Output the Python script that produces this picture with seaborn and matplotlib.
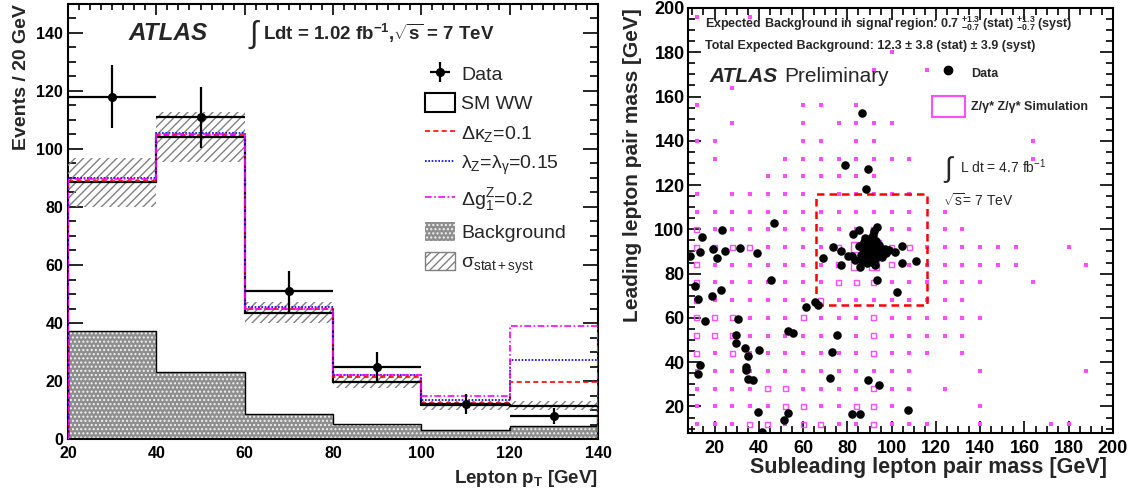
import matplotlib
matplotlib.use("Agg")
import matplotlib.pyplot as plt
import seaborn as sns
from matplotlib.patches import Patch
from matplotlib.lines import Line2D
from matplotlib.ticker import MultipleLocator

# ---------------- left panel data ----------------
bin_edges = [20, 40, 60, 80, 100, 120, 140]
bin_centers = [30, 50, 70, 90, 110, 130]
data_counts = [118, 111, 51, 25, 12, 8]
data_err = [10.9, 10.5, 7.1, 5.0, 3.5, 2.8]
sm_ww = [88.5, 104.0, 43.6, 19.8, 11.6, 11.5]
sm_sigma = [8.4, 8.6, 3.6, 2.2, 1.5, 1.5]
dkappa = [89.1, 104.8, 44.8, 21.3, 12.4, 19.5]
dlambda = [89.9, 105.6, 45.6, 22.1, 13.5, 27.3]
dg1 = [89.5, 105.2, 45.0, 22.1, 15.0, 39.0]
background = [37.2, 23.2, 8.7, 5.1, 3.2, 4.6]

# ---------------- right panel data ----------------
data_x = [46.7, 23.3, 14.1, 19.5, 13.3, 8.7, 20.9, 24.7, 31.3, 39.0, 45.6, 11.2, 23.0, 12.3, 18.8,
          30.7, 15.5, 61.2, 65.2, 66.6, 68.9, 29.8, 29.5, 33.6, 35.2, 39.9, 53.2, 55.6, 13.5, 12.6,
          34.3, 34.2, 34.9, 37.3, 39.6, 53.3, 51.2, 41.5, 102.4, 75.2, 73.1, 72.3, 89.2, 94.2, 107.3,
          82.3, 85.9, 93.3, 86.5, 79.0, 89.2, 88.4, 93.6, 92.1, 85.4, 82.7, 91.5, 73.7, 77.0, 80.3,
          82.3, 77.0, 85.7, 104.9, 101.6, 104.6, 111.1,
          88.5, 89.2, 90.1, 90.8, 91.5, 92.3, 91.0, 89.7, 92.8, 93.4, 90.4, 91.8, 89.1, 87.6, 86.9,
          88.2, 93.9, 94.6, 95.2, 92.0, 93.1, 87.4, 86.1, 89.9, 91.3, 92.7, 94.1, 88.8, 96.3, 97.5,
          85.4, 90.6, 88.0, 92.4, 86.5, 95.8, 91.2, 89.5, 90.9, 97.0, 99.0, 83.5]
data_y = [102.8, 99.5, 96.4, 91.2, 89.6, 87.8, 86.9, 90.0, 91.4, 89.3, 77.0, 74.2, 72.6, 68.4, 70.0,
          59.6, 58.7, 64.9, 67.3, 65.8, 86.9, 52.2, 48.8, 46.5, 42.9, 45.6, 54.1, 53.2, 38.5, 34.6,
          37.9, 36.3, 32.3, 31.8, 17.5, 17.0, 13.7, 8.5, 71.9, 52.2, 44.4, 32.9, 31.8, 29.8, 18.2,
          16.5, 16.6, 77.0, 152.7, 128.9, 127.3, 118.4, 101.0, 99.2, 99.9, 98.0, 97.3, 92.1, 90.1, 88.1,
          88.0, 84.0, 82.8, 92.4, 89.9, 84.7, 85.7,
          91.5, 90.3, 89.4, 91.2, 90.0, 88.7, 87.8, 88.2, 91.6, 90.2, 92.8, 93.5, 93.9, 89.6, 91.0,
          87.0, 88.0, 89.4, 91.1, 95.2, 94.6, 94.5, 88.4, 86.3, 85.2, 86.5, 92.9, 84.8, 90.2, 89.5,
          92.3, 95.9, 96.0, 84.0, 85.5, 87.6, 91.4, 92.0, 88.9, 91.0, 90.5, 86.0]

# Z/gamma* simulation: 8 GeV bins, box size ~ content (rows top y=196 -> bottom y=12)
mc_bin_centers = [12, 20, 28, 36, 44, 52, 60, 68, 76, 84, 92, 100,
                  108, 116, 124, 132, 140, 148, 156, 164, 172, 180, 188, 196]
mc_rows = [
    "100100000000000000000000",  # 196
    "000000000000000000000000",  # 188
    "000000000001000000000000",  # 180
    "000000000010010000000000",  # 172
    "001000000000000000000000",  # 164
    "100000110100000000000000",  # 156
    "001000101111000000000000",  # 148
    "110000110110000000010000",  # 140
    "010001111111100000010000",  # 132
    "000011111110000000000000",  # 124
    "101111101111100000000000",  # 116
    "111111111111101000000000",  # 108
    "211111111121101100000000",  # 100
    "222211112462211111100100",  # 92
    "211111112442111111100010",  # 84
    "211111112221111110010000",  # 76
    "211111121111111100000000",  # 68
    "222111211121111110000000",  # 60
    "222111111121111100000000",  # 52
    "212111111121110100000000",  # 44
    "111111111111100010000010",  # 36
    "111122111121101000000000",  # 28
    "111112211221000010000000",  # 20
    "111221221121110010001100",  # 12
]
signal_region = [66, 116, 66, 116]  # x0, x1, y0, y1

# ---------------- style ----------------
sns.set_theme(style="ticks")
plt.rcParams["font.family"] = ["Liberation Sans", "DejaVu Sans"]
plt.rcParams["mathtext.fontset"] = "custom"
plt.rcParams["mathtext.rm"] = "Liberation Sans"
plt.rcParams["mathtext.bf"] = "Liberation Sans:bold"
plt.rcParams["mathtext.it"] = "Liberation Sans:italic"
plt.rcParams["mathtext.sf"] = "Liberation Sans"
plt.rcParams["mathtext.default"] = "regular"
plt.rcParams["hatch.linewidth"] = 1.0

W, H = 1135, 494
fig = plt.figure(figsize=(W / 100, H / 100), dpi=100)


def fx(px):
    return px / W


def fy(py):
    return 1 - py / H


ax1 = fig.add_axes([fx(68), fy(439), fx(598) - fx(68), fy(4) - fy(439)])
ax2 = fig.add_axes([fx(688), fy(433), fx(1113) - fx(688), fy(8) - fy(433)])

BG_FACE = "#8e8e8e"
BG_EDGE = "#f2f2f2"
BG_HATCH = "...."

# ---------------- left panel ----------------
ax1.stairs(background, bin_edges, fill=True, facecolor=BG_FACE, edgecolor=BG_EDGE,
           hatch=BG_HATCH, linewidth=0, zorder=1)
ax1.stairs(background, bin_edges, color="black", linewidth=1.0, zorder=2)
band_lo = [m - s for m, s in zip(sm_ww, sm_sigma)]
band_h = [2 * s for s in sm_sigma]
ax1.bar(bin_centers, band_h, bottom=band_lo, width=20, facecolor="none", edgecolor="#808080",
        hatch="////", linewidth=0, zorder=3)
ax1.stairs(sm_ww, bin_edges, color="black", linewidth=1.6, zorder=4)
ax1.stairs(dkappa, bin_edges, color="#ff0000", linestyle=(0, (3, 2)), linewidth=1.2, zorder=5)
ax1.stairs(dlambda, bin_edges, color="#0000ff", linestyle=(0, (1, 1)), linewidth=1.2, zorder=5)
ax1.stairs(dg1, bin_edges, color="#ff00ff", linestyle=(0, (4, 1.5, 1, 1.5)), linewidth=1.2, zorder=5)
data_cont = ax1.errorbar(bin_centers, data_counts, yerr=data_err, xerr=10, fmt="o", color="black",
                         ms=5.5, elinewidth=1.6, capsize=0, zorder=6)

ax1.set_xlim(20, 140)
ax1.set_ylim(0, 150)
ax1.xaxis.set_major_locator(MultipleLocator(20))
ax1.xaxis.set_minor_locator(MultipleLocator(2.5))
ax1.yaxis.set_major_locator(MultipleLocator(20))
ax1.yaxis.set_minor_locator(MultipleLocator(5))
ax1.tick_params(axis="both", which="both", direction="in", top=True, right=True, width=1.2,
                colors="black")
ax1.tick_params(axis="x", which="major", length=8, pad=5)
ax1.tick_params(axis="x", which="minor", length=4.3)
ax1.tick_params(axis="y", which="major", length=11, pad=3.5)
ax1.tick_params(axis="y", which="minor", length=5.8)
for lab in ax1.get_xticklabels() + ax1.get_yticklabels():
    lab.set_fontweight("bold")
    lab.set_fontsize(11.5)
for sp in ax1.spines.values():
    sp.set_linewidth(1.5)
    sp.set_color("black")

ax1.set_xlabel("Lepton p$_{\\mathbf{T}}$ [GeV]", fontsize=13.5, fontweight="bold", ha="right",
               va="center")
ax1.xaxis.set_label_coords(1.0, (439 - 478) / 435)
ax1.set_ylabel("Events / 20 GeV", fontsize=14, fontweight="bold", ha="right", va="center")
ax1.yaxis.set_label_coords((22 - 68) / 530, 1.0)

handles = [
    data_cont,
    Patch(facecolor="white", edgecolor="black", linewidth=1.5),
    Line2D([], [], color="#ff0000", linestyle=(0, (3, 2)), linewidth=1.2),
    Line2D([], [], color="#0000ff", linestyle=(0, (1, 1)), linewidth=1.2),
    Line2D([], [], color="#ff00ff", linestyle=(0, (4, 1.5, 1, 1.5)), linewidth=1.2),
    Patch(facecolor=BG_FACE, edgecolor=BG_EDGE, hatch=BG_HATCH, linewidth=0),
    Patch(facecolor="white", edgecolor="#808080", hatch="////"),
]
labels = ["Data", "SM WW", "Δκ$_{Z}$=0.1", "λ$_{Z}$=λ$_{γ}$=0.15", "Δg$_{1}^{Z}$=0.2",
          "Background", "σ$_{stat+syst}$"]
leg1 = ax1.legend(handles, labels, loc="upper left",
                  bbox_to_anchor=((425 - 68) / 530, (439 - 64) / 435),
                  frameon=False, fontsize=14, handlelength=1.55, handleheight=1.1,
                  handletextpad=0.3, labelspacing=0.48, borderpad=0, borderaxespad=0)

fig.text(fx(128), fy(33), "ATLAS", fontsize=17.5, fontweight="bold", fontstyle="italic",
         va="center", ha="left")
fig.text(fx(249), fy(35), "∫", fontsize=22, va="center", ha="left")
fig.text(fx(263), fy(33), "Ldt = 1.02 fb$^{-1}$,$\\sqrt{s}$ = 7 TeV", fontsize=13.5,
         fontweight="bold", va="center", ha="left")

# ---------------- right panel ----------------
box_x, box_y, box_c = [], [], []
n_rows = len(mc_rows)
for r, row in enumerate(mc_rows):
    yc = mc_bin_centers[n_rows - 1 - r]
    for c, ch in enumerate(row):
        v = int(ch)
        if v > 0:
            box_x.append(mc_bin_centers[c])
            box_y.append(yc)
            box_c.append(v)

mag = "#ff4dff"
sx = [x for x, c in zip(box_x, box_c) if c == 1]
sy = [y for y, c in zip(box_y, box_c) if c == 1]
ax2.scatter(sx, sy, marker="s", s=6.5, color=mag, linewidths=0, zorder=2)
bx = [x for x, c in zip(box_x, box_c) if c > 1]
by = [y for y, c in zip(box_y, box_c) if c > 1]
bs = [(1.8 * c) ** 2 for c in box_c if c > 1]
ax2.scatter(bx, by, marker="s", s=bs, facecolors="none", edgecolors=mag, linewidths=1.0, zorder=2)

x0, x1, y0, y1 = signal_region
ax2.plot([x0, x1, x1, x0, x0], [y0, y0, y1, y1, y0], color="#ff0000", linestyle=(0, (3, 2)),
         linewidth=1.8, zorder=3)

sns.scatterplot(x=data_x, y=data_y, ax=ax2, color="black", s=38, linewidth=0, zorder=5)

ax2.set_xlim(8, 200)
ax2.set_ylim(8, 200)
ax2.xaxis.set_major_locator(MultipleLocator(20))
ax2.xaxis.set_minor_locator(MultipleLocator(5))
ax2.yaxis.set_major_locator(MultipleLocator(20))
ax2.yaxis.set_minor_locator(MultipleLocator(5))
ax2.tick_params(axis="both", which="both", direction="in", top=True, right=True, width=1.2,
                colors="black")
ax2.tick_params(axis="x", which="major", length=8.4, pad=5)
ax2.tick_params(axis="x", which="minor", length=5)
ax2.tick_params(axis="y", which="major", length=9.4, pad=2.5)
ax2.tick_params(axis="y", which="minor", length=5)
for lab in ax2.get_xticklabels() + ax2.get_yticklabels():
    lab.set_fontweight("bold")
    lab.set_fontsize(13)
for sp in ax2.spines.values():
    sp.set_linewidth(1.5)
    sp.set_color("black")

ax2.set_xlabel("Subleading lepton pair mass [GeV]", fontsize=15.5, fontweight="bold", ha="right",
               va="center")
ax2.xaxis.set_label_coords((1107 - 688) / 425, (425 - 459) / 425)
ax2.set_ylabel("Leading lepton pair mass [GeV]", fontsize=15, fontweight="bold", ha="right",
               va="center")
ax2.yaxis.set_label_coords((633 - 688) / 425, 1.0)

ax2.legend([Line2D([], [], marker="o", color="black", linestyle="none", markersize=6),
            Patch(facecolor="white", edgecolor=mag, linewidth=1.5)],
           ["Data", "Z/γ* Z/γ* Simulation"],
           loc="upper left", bbox_to_anchor=((932 - 688) / 425, (433 - 62.5) / 425),
           frameon=False, prop={"size": 9, "weight": "bold"}, handlelength=2.6,
           handleheight=2.3, handletextpad=0.55, labelspacing=0.9, borderpad=0,
           borderaxespad=0)

fig.text(fx(705), fy(24), "Expected Background in signal region: 0.7 $^{+1.3}_{-0.7}$ (stat) "
         "$^{+1.3}_{-0.7}$ (syst)", fontsize=9, fontweight="bold", va="center", ha="left")
fig.text(fx(705), fy(46), "Total Expected Background: 12.3 ± 3.8 (stat) ± 3.9 (syst)",
         fontsize=9, fontweight="bold", va="center", ha="left")
fig.text(fx(709), fy(77), "ATLAS", fontsize=15, fontweight="bold", fontstyle="italic",
         va="center", ha="left")
fig.text(fx(784), fy(77), "Preliminary", fontsize=15, va="center", ha="left")
fig.text(fx(944), fy(170), "∫", fontsize=20, va="center", ha="left")
fig.text(fx(960), fy(167), "L dt = 4.7 fb$^{-1}$", fontsize=10, va="center", ha="left")
fig.text(fx(943), fy(201), "$\\sqrt{s}$= 7 TeV", fontsize=10, va="center", ha="left")

fig.savefig("out.png", dpi=100)
